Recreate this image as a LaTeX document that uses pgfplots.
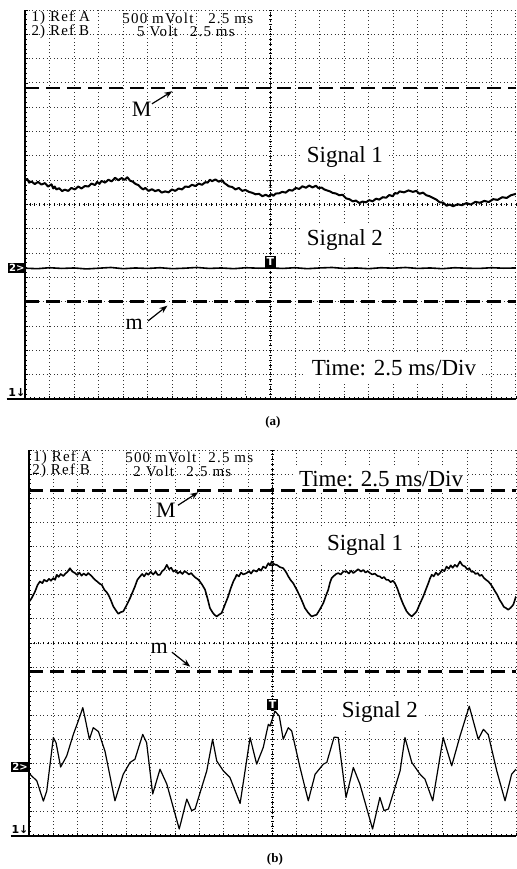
\documentclass[border=0pt]{standalone}
\usepackage{fontspec}
\setmainfont{Liberation Serif}
\newfontfamily\dejavu{DejaVu Sans}
\newfontfamily\hdrfont[LetterSpace=8]{Liberation Serif}
\usepackage{pgfplots}
\pgfplotsset{compat=1.18}
\usetikzlibrary{arrows.meta}

\pgfplotsset{
  scope/.style={
    scale only axis, xmin=0, xmax=20, ymin=0, ymax=16,
    axis line style={draw=none},
    xtick={0,1,...,20}, ytick={0,1,...,16},
    minor x tick num=4, minor y tick num=4,
    xticklabels={}, yticklabels={},
    xtick pos=bottom, ytick pos=left,
    tick align=inside, major tick length=1.6pt, minor tick length=1pt,
    tick style={black, line width=0.4pt},
    grid=major, grid style={black!80, line width=0.5pt, dash pattern=on 0.5pt off 1.3pt},
    clip mode=individual,
  },
  trace/.style={black, line width=0.7pt, line join=round},
  limit/.style={black, line width=1.3pt, dash pattern=on 7pt off 3.5pt},
}
\newcommand{\scopedecor}{%
  \draw[black, line width=0.5pt, dash pattern=on 0.5pt off 0.7pt] (axis cs:10,0) -- (axis cs:10,16);
  \pgfplotsinvokeforeach{0.2,0.4,...,15.9}{\draw[black, line width=0.35pt] (axis cs:9.95,##1) -- (axis cs:10.05,##1);}
  \pgfplotsinvokeforeach{0.2,0.4,...,19.9}{\draw[black, line width=0.35pt] (axis cs:##1,7.94) -- (axis cs:##1,8.06);}
  \draw[black, line width=0.8pt] (rel axis cs:0,0) -- (rel axis cs:0,1);
  \draw[black, line width=1.3pt] (axis cs:-0.75,0) -- (rel axis cs:1,0);
}
\newcommand{\lbl}{\fontsize{11.5}{13}\selectfont}
\newcommand{\hdr}{\hdrfont\fontsize{7.5}{7.5}\selectfont}

\begin{document}
\begin{tikzpicture}
\useasboundingbox (0,0) rectangle (258pt,-434.5pt);

% ---------------- (a) ----------------
\begin{axis}[scope, at={(12.5pt,-199.5pt)}, anchor=south west, width=245.5pt, height=194.5pt]
\scopedecor
\node[anchor=west, font=\hdr, inner sep=0pt] at (axis cs:0.25,15.66) {1) Ref A};
\node[anchor=west, font=\hdr, inner sep=0pt] at (axis cs:3.95,15.66) {500 mVolt};
\node[anchor=west, font=\hdr, inner sep=0pt] at (axis cs:7.45,15.66) {2.5 ms};
\node[anchor=west, font=\hdr, inner sep=0pt] at (axis cs:0.25,15.12) {2) Ref B};
\node[anchor=west, font=\hdr, inner sep=0pt] at (axis cs:4.55,15.12) {5 Volt};
\node[anchor=west, font=\hdr, inner sep=0pt] at (axis cs:6.70,15.12) {2.5 ms};

\node[fill=white, inner sep=3pt, font=\lbl] at (axis cs:13.03,9.96) {Signal 1};
\node[fill=white, inner sep=3pt, font=\lbl] at (axis cs:13.03,6.54) {Signal 2};
\node[fill=white, inner sep=3pt, font=\lbl] at (axis cs:15.03,1.28) {Time: 2.5 ms/Div};
\node[fill=white, inner sep=1pt, font=\fontsize{11}{12}\selectfont] at (axis cs:4.75,11.9) {M};
\node[fill=white, inner sep=1pt, font=\fontsize{11}{12}\selectfont] at (axis cs:4.45,3.08) {m};

\addplot[limit] coordinates {(0,12.8) (20,12.8)};
\addplot[limit] coordinates {(0,4.0) (20,4.0)};

% Signal 1
\addplot[trace, line width=1pt] coordinates {
(0.00,8.99) (0.09,9.05) (0.17,8.90) (0.26,8.95) (0.40,8.84) (0.53,8.93) (0.67,8.82) (0.81,8.88)
(0.94,8.74) (1.08,8.83) (1.15,8.66) (1.21,8.74) (1.28,8.62) (1.39,8.67) (1.51,8.55) (1.62,8.61)
(1.76,8.56) (1.89,8.68) (2.03,8.62) (2.17,8.74) (2.30,8.66) (2.44,8.76) (2.58,8.74) (2.71,8.86)
(2.85,8.80) (2.94,8.93) (3.03,8.85) (3.12,8.97) (3.26,8.90) (3.40,9.02) (3.53,8.95) (3.67,9.10)
(3.80,9.00) (3.94,9.09) (4.05,9.01) (4.17,9.12) (4.28,8.98) (4.39,8.94) (4.51,8.84) (4.62,8.80)
(4.71,8.70) (4.81,8.62) (4.90,8.68) (5.03,8.56) (5.17,8.63) (5.30,8.55) (5.44,8.60) (5.57,8.49)
(5.71,8.54) (5.85,8.50) (5.98,8.62) (6.12,8.56) (6.26,8.66) (6.39,8.62) (6.53,8.74) (6.67,8.72)
(6.80,8.81) (6.94,8.76) (7.08,8.86) (7.21,8.81) (7.35,8.92) (7.44,8.90) (7.53,9.02) (7.62,8.96)
(7.76,9.03) (7.89,8.94) (8.03,9.00) (8.12,8.88) (8.21,8.82) (8.30,8.75) (8.44,8.72) (8.57,8.62)
(8.71,8.68) (8.85,8.56) (8.98,8.60) (9.12,8.52) (9.26,8.48) (9.39,8.42) (9.53,8.44) (9.67,8.34)
(9.80,8.40) (9.94,8.33) (10.03,8.43) (10.12,8.36) (10.21,8.45) (10.35,8.46) (10.48,8.52) (10.62,8.49)
(10.76,8.60) (10.89,8.57) (11.03,8.68) (11.17,8.64) (11.30,8.75) (11.44,8.69) (11.58,8.78) (11.71,8.70)
(11.85,8.77) (11.96,8.67) (12.08,8.70) (12.19,8.62) (12.30,8.58) (12.42,8.54) (12.53,8.48) (12.67,8.45)
(12.80,8.38) (12.94,8.40) (13.08,8.25) (13.21,8.22) (13.35,8.13) (13.48,8.16) (13.62,8.06) (13.75,8.12)
(13.89,8.09) (14.02,8.18) (14.16,8.13) (14.30,8.24) (14.43,8.20) (14.57,8.30) (14.71,8.28) (14.84,8.39)
(14.98,8.34) (15.07,8.47) (15.17,8.45) (15.26,8.54) (15.44,8.50) (15.62,8.58) (15.80,8.52) (15.94,8.56)
(16.07,8.44) (16.21,8.49) (16.35,8.38) (16.48,8.34) (16.62,8.27) (16.76,8.20) (16.89,8.09) (17.03,8.08)
(17.17,7.95) (17.30,8.00) (17.44,7.93) (17.62,8.01) (17.80,7.97) (17.98,8.06) (18.16,8.00) (18.35,8.11)
(18.53,8.07) (18.71,8.15) (18.89,8.10) (19.07,8.22) (19.25,8.19) (19.44,8.30) (19.62,8.27) (19.79,8.38)
(20.00,8.44)};

% Signal 2
\addplot[black, line width=0.8pt] coordinates {
(0,5.38) (0.5,5.36) (1,5.40) (1.5,5.37) (2,5.39) (2.5,5.35) (3,5.38) (3.5,5.41) (4,5.36) (4.5,5.39)
(5,5.37) (5.5,5.40) (6,5.36) (6.5,5.38) (7,5.41) (7.5,5.37) (8,5.39) (8.5,5.36) (9,5.40) (9.5,5.38)
(10,5.39) (10.5,5.37) (11,5.40) (11.5,5.36) (12,5.39) (12.5,5.41) (13,5.37) (13.5,5.39) (14,5.36) (14.5,5.40)
(15,5.38) (15.5,5.41) (16,5.37) (16.5,5.39) (17,5.36) (17.5,5.40) (18,5.38) (18.5,5.37) (19,5.40) (19.5,5.38)
(20,5.39)};

\draw[-{Stealth[length=4pt,width=3pt]}, line width=0.6pt] (axis cs:5.17,12.14) -- (axis cs:6.0,12.66);
\draw[-{Stealth[length=4pt,width=3pt]}, line width=0.6pt] (axis cs:5.01,3.21) -- (axis cs:5.8,3.84);
\node[fill=black, text=white, font=\dejavu\bfseries\fontsize{5.5}{6}\selectfont, inner sep=0.9pt, anchor=south] at (axis cs:10,5.39) {T};
\node[font=\fontsize{6}{6}\selectfont, inner sep=0pt] at (axis cs:10,8.8) {T};
\node[fill=black, text=white, font=\dejavu\bfseries\fontsize{5}{6}\selectfont, inner sep=0.8pt] at (axis cs:-0.33,5.39) {2>};
\node[font=\dejavu\bfseries\fontsize{5.5}{6}\selectfont, inner sep=0pt] at (axis cs:-0.33,0.25) {1↓};
\node[font=\bfseries\fontsize{6.5}{7}\selectfont] at (axis cs:10.1,-0.95) {(a)};
\end{axis}

% ---------------- (b) ----------------
\begin{axis}[scope, at={(14.5pt,-418pt)}, anchor=south west, width=243.5pt, height=193pt]
\scopedecor
\node[anchor=west, font=\hdr, inner sep=0pt] at (axis cs:0.16,15.68) {1) Ref A};
\node[anchor=west, font=\hdr, inner sep=0pt] at (axis cs:3.94,15.68) {500 mVolt};
\node[anchor=west, font=\hdr, inner sep=0pt] at (axis cs:7.35,15.68) {2.5 ms};
\node[anchor=west, font=\hdr, inner sep=0pt] at (axis cs:0.12,15.12) {2) Ref B};
\node[anchor=west, font=\hdr, inner sep=0pt] at (axis cs:4.27,15.12) {2 Volt};
\node[anchor=west, font=\hdr, inner sep=0pt] at (axis cs:6.45,15.12) {2.5 ms};

\node[fill=white, inner sep=2pt, anchor=base, font=\lbl] at (axis cs:14.46,14.47) {Time: 2.5 ms/Div};
\node[fill=white, inner sep=3pt, font=\lbl] at (axis cs:13.8,12.05) {Signal 1};
\node[fill=white, inner sep=3pt, font=\lbl] at (axis cs:14.41,5.13) {Signal 2};
\node[fill=white, inner sep=1pt, font=\fontsize{11}{12}\selectfont] at (axis cs:5.62,13.5) {M};
\node[fill=white, inner sep=1pt, font=\fontsize{11}{12}\selectfont] at (axis cs:5.35,7.8) {m};

\addplot[limit] coordinates {(0,14.33) (20,14.33)};
\addplot[limit] coordinates {(0,6.83) (20,6.83)};

% Signal 1
\addplot[trace, line width=0.8pt] coordinates {
(0.00,9.70) (0.11,9.86) (0.25,10.14) (0.35,10.40) (0.45,10.55) (0.55,10.48) (0.62,10.62) (0.73,10.55)
(0.82,10.66) (0.90,10.58) (1.00,10.69) (1.07,10.62) (1.14,10.83) (1.22,10.74) (1.30,10.86) (1.41,10.78)
(1.50,10.88) (1.58,10.95) (1.68,11.10) (1.78,10.96) (1.89,10.90) (1.98,10.82) (2.07,10.92) (2.16,10.79)
(2.25,10.88) (2.35,10.80) (2.43,10.90) (2.51,10.83) (2.60,10.74) (2.71,10.62) (2.80,10.55) (2.90,10.46)
(2.99,10.41) (3.10,10.20) (3.18,10.12) (3.26,10.00) (3.36,9.78) (3.46,9.52) (3.57,9.35) (3.67,9.21)
(3.77,9.28) (3.87,9.31) (4.00,9.55) (4.15,9.86) (4.25,10.10) (4.35,10.34) (4.45,10.62) (4.56,10.76)
(4.65,10.86) (4.73,10.76) (4.82,10.90) (4.90,10.83) (5.00,10.95) (5.10,10.84) (5.20,10.96) (5.29,10.82)
(5.38,10.83) (5.47,10.98) (5.56,11.05) (5.66,11.24) (5.75,11.06) (5.84,11.12) (5.93,10.96) (6.02,11.02)
(6.11,10.88) (6.20,10.96) (6.30,10.86) (6.39,10.98) (6.48,10.92) (6.57,10.84) (6.66,10.90) (6.75,10.79)
(6.85,10.70) (6.94,10.64) (7.02,10.55) (7.12,10.40) (7.23,10.21) (7.33,9.85) (7.43,9.45) (7.55,9.25)
(7.63,9.16) (7.71,9.10) (7.81,9.18) (7.91,9.24) (8.05,9.60) (8.18,9.93) (8.28,10.25) (8.39,10.55)
(8.46,10.68) (8.53,10.83) (8.62,10.76) (8.71,10.92) (8.80,10.84) (8.94,10.90) (9.03,10.98) (9.12,10.88)
(9.22,11.02) (9.35,10.96) (9.44,11.08) (9.53,11.00) (9.62,11.17) (9.72,11.10) (9.83,11.31) (9.90,11.22)
(9.97,11.38) (10.07,11.26) (10.17,11.24) (10.30,11.15) (10.44,11.10) (10.55,10.95) (10.65,10.76) (10.75,10.60)
(10.85,10.48) (11.00,10.20) (11.13,9.93) (11.23,9.70) (11.33,9.45) (11.47,9.25) (11.61,9.10) (11.71,9.14)
(11.81,9.17) (11.95,9.40) (12.09,9.66) (12.19,9.95) (12.29,10.21) (12.36,10.50) (12.43,10.69) (12.52,10.78)
(12.61,10.86) (12.70,10.90) (12.80,10.84) (12.92,10.97) (13.05,10.96) (13.14,10.88) (13.23,11.00) (13.32,10.90)
(13.42,10.98) (13.52,11.06) (13.63,10.96) (13.73,11.03) (13.82,10.92) (13.91,10.98) (14.00,10.90) (14.10,10.84)
(14.20,10.88) (14.31,10.78) (14.41,10.76) (14.50,10.68) (14.58,10.74) (14.67,10.62) (14.76,10.62) (14.85,10.52)
(14.94,10.58) (15.03,10.48) (15.13,10.25) (15.24,9.93) (15.37,9.60) (15.51,9.31) (15.62,9.18) (15.72,9.10)
(15.82,9.20) (15.92,9.31) (16.05,9.62) (16.19,9.93) (16.30,10.22) (16.40,10.48) (16.47,10.68) (16.54,10.83)
(16.62,10.76) (16.71,10.92) (16.80,10.82) (16.88,10.90) (16.97,11.04) (17.06,10.98) (17.15,11.17) (17.24,11.08)
(17.32,11.22) (17.40,11.12) (17.49,11.24) (17.58,11.16) (17.70,11.38) (17.80,11.22) (17.91,11.17) (18.00,11.05)
(18.08,11.10) (18.17,10.95) (18.25,10.96) (18.34,10.86) (18.43,10.90) (18.51,10.78) (18.59,10.83) (18.68,10.70)
(18.77,10.62) (18.86,10.55) (18.95,10.45) (19.05,10.30) (19.14,10.14) (19.23,10.00) (19.32,9.80) (19.41,9.66)
(19.50,9.50) (19.60,9.44) (19.68,9.38) (19.78,9.46) (19.89,9.59) (20.00,9.93)};

% Signal 2
\addplot[trace, line width=0.6pt] coordinates {
(0.00,2.60) (0.11,2.49) (0.32,2.29) (0.59,1.45) (0.73,1.87) (1.00,4.08) (1.11,3.87) (1.30,2.86)
(1.55,3.32) (1.82,4.21) (2.02,4.76) (2.21,5.32) (2.30,4.90) (2.48,4.01) (2.64,4.49) (2.85,4.33)
(3.12,3.52) (3.53,1.46) (3.87,2.56) (4.15,3.05) (4.35,3.18) (4.67,4.21) (4.83,3.87) (5.08,1.74)
(5.38,2.77) (5.66,2.15) (6.17,0.29) (6.48,1.53) (6.68,1.05) (6.82,1.12) (7.30,2.70) (7.54,4.01)
(7.71,3.11) (7.98,2.70) (8.25,2.43) (8.67,1.35) (9.08,4.08) (9.35,2.98) (9.62,3.67) (9.83,4.63)
(9.90,4.56) (10.10,5.18) (10.28,4.97) (10.44,4.01) (10.65,4.49) (10.79,4.35) (11.13,2.84) (11.47,1.46)
(11.75,2.56) (12.09,2.98) (12.23,3.05) (12.53,4.10) (12.70,4.08) (13.02,1.60) (13.32,2.84) (13.59,2.15)
(14.11,0.29) (14.41,1.60) (14.58,1.05) (14.76,1.12) (15.24,2.70) (15.44,4.08) (15.72,3.05) (16.06,2.56)
(16.26,2.36) (16.58,1.46) (17.01,4.08) (17.36,2.91) (17.70,4.14) (18.08,5.38) (18.45,4.01) (18.66,4.42)
(18.86,4.21) (19.21,2.70) (19.55,1.46) (19.72,2.15) (19.82,2.56) (20.00,2.77)};

\draw[-{Stealth[length=4pt,width=3pt]}, line width=0.6pt] (axis cs:6.12,13.71) -- (axis cs:6.95,14.25);
\draw[-{Stealth[length=4pt,width=3pt]}, line width=0.6pt] (axis cs:5.87,7.62) -- (axis cs:6.62,7.02);
\node[fill=black, text=white, font=\dejavu\bfseries\fontsize{5.5}{6}\selectfont, inner sep=0.9pt] at (axis cs:10,5.45) {T};
\node[font=\fontsize{6}{6}\selectfont, inner sep=0pt] at (axis cs:10,11.1) {T};
\node[fill=black, text=white, font=\dejavu\bfseries\fontsize{5}{6}\selectfont, inner sep=0.8pt] at (axis cs:-0.37,2.86) {2>};
\node[font=\dejavu\bfseries\fontsize{5.5}{6}\selectfont, inner sep=0pt] at (axis cs:-0.37,0.25) {1↓};
\node[font=\bfseries\fontsize{6.5}{7}\selectfont] at (axis cs:10.1,-0.95) {(b)};
\end{axis}
\end{tikzpicture}
\end{document}
